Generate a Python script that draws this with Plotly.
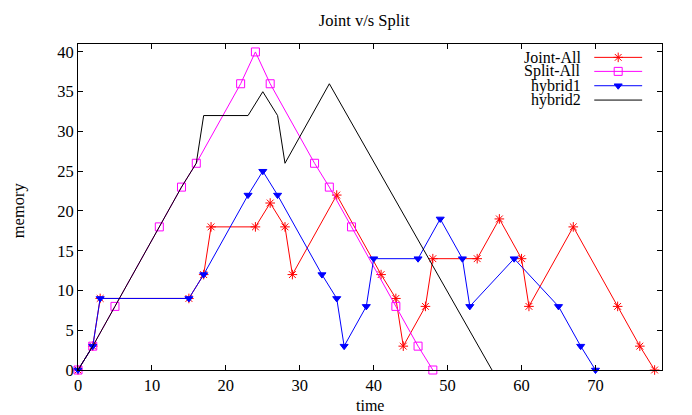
import plotly.graph_objects as go

# Joint-All
joint_x = [0, 2, 3, 15, 17, 18, 24, 26, 28, 29, 35, 41, 43, 44, 47, 48, 54, 57, 60, 61, 67, 73, 76, 78]
joint_y = [0, 3, 9, 9, 12, 18, 18, 21, 18, 12, 22, 12, 9, 3, 8, 14, 14, 19, 14, 8, 18, 8, 3, 0]

# Split-All
split_x = [0, 2, 5, 11, 14, 16, 22, 24, 26, 32, 34, 37, 43, 46, 48]
split_y = [0, 3, 8, 18, 23, 26, 36, 40, 36, 26, 23, 18, 8, 3, 0]

# hybrid1
h1_x = [0, 2, 3, 15, 17, 23, 25, 27, 33, 35, 36, 39, 40, 46, 49, 52, 53, 59, 65, 68, 70]
h1_y = [0, 3, 9, 9, 12, 22, 25, 22, 12, 9, 3, 8, 14, 14, 19, 14, 8, 14, 8, 3, 0]

# hybrid2
h2_x = [0, 2, 5, 11, 14, 16, 17, 23, 25, 27, 28, 34, 56]
h2_y = [0, 3, 8, 18, 23, 26, 32, 32, 35, 32, 26, 36, 0]

names = ["Joint-All", "Split-All", "hybrid1", "hybrid2"]
colors = ["#ff0000", "#ff00ff", "#0000ff", "#000000"]
symbols = ["asterisk-open", "square-open", "triangle-down", None]

FONT = "Liberation Serif, Times New Roman, serif"


def marker_for(sym, col):
    return dict(symbol=sym, size=7 if sym == "triangle-down" else 8,
                color=col, line=dict(color=col, width=1))


fig = go.Figure()
series = [(joint_x, joint_y), (split_x, split_y), (h1_x, h1_y), (h2_x, h2_y)]
for (xs, ys), name, col, sym in zip(series, names, colors, symbols):
    fig.add_trace(go.Scatter(
        x=xs, y=ys, name=name,
        mode="lines+markers" if sym else "lines",
        line=dict(color=col, width=1),
        marker=marker_for(sym, col) if sym else None,
        cliponaxis=False, showlegend=False,
    ))

# gnuplot-style key: text right-aligned, sample to the right
key_rows = [0.959, 0.916, 0.872, 0.828]
for name, col, sym, ky in zip(names, colors, symbols, key_rows):
    fig.add_annotation(x=0.865, y=ky, xref="paper", yref="paper", text=name,
                       showarrow=False, xanchor="right", yanchor="middle",
                       font=dict(family=FONT, size=16, color="black"))
    fig.add_shape(type="line", xref="paper", yref="paper",
                  x0=0.884, x1=0.966, y0=ky, y1=ky,
                  line=dict(color=col, width=1))
    if sym:
        fig.add_trace(go.Scatter(
            x=[0.925], y=[ky], xaxis="x2", yaxis="y2", mode="markers",
            marker=marker_for(sym, col),
            showlegend=False, hoverinfo="skip", cliponaxis=False,
        ))

axis_common = dict(
    showgrid=False, zeroline=False, showline=True, linecolor="black", linewidth=1,
    mirror="ticks", ticks="inside", ticklen=5, tickcolor="black",
    tickfont=dict(family=FONT, size=16.5, color="black"),
)

# page body adds an 8px offset, so the figure is sized to fit the window
fig.update_layout(
    width=684, height=407,
    margin=dict(l=70, r=30, t=36, b=45),
    plot_bgcolor="white", paper_bgcolor="white",
    title=dict(text="Joint v/s Split", xref="paper", x=0.49, xanchor="center",
               y=0.97, yanchor="middle",
               font=dict(family=FONT, size=16.5, color="black")),
    xaxis=dict(range=[0, 79], tick0=0, dtick=10, **axis_common),
    yaxis=dict(range=[0, 41], tick0=0, dtick=5, **axis_common),
    xaxis2=dict(range=[0, 1], overlaying="x", visible=False, fixedrange=True),
    yaxis2=dict(range=[0, 1], overlaying="y", visible=False, fixedrange=True),
    showlegend=False,
)

fig.add_annotation(x=0.5, y=0, xref="paper", yref="paper", yshift=-35, text="time",
                   showarrow=False, xanchor="center", yanchor="middle",
                   font=dict(family=FONT, size=16, color="black"))
fig.add_annotation(x=0, y=0.49, xref="paper", yref="paper", xshift=-60, text="memory",
                   textangle=-90, showarrow=False, xanchor="center", yanchor="middle",
                   font=dict(family=FONT, size=16.5, color="black"))

fig.write_html("out.html")
